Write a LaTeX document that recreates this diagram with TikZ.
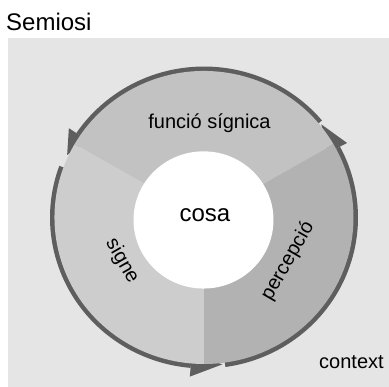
\documentclass[tikz,border=0pt]{standalone}
\usepackage{fontspec}
\setmainfont{Liberation Sans}
\begin{document}
\begin{tikzpicture}[x=1pt,y=1pt,
  lbl/.style={inner sep=0pt, text=black, font=\fontsize{20}{24}\selectfont},
  biglbl/.style={inner sep=0pt, text=black, font=\fontsize{24}{28}\selectfont},
  ringarc/.style={draw=darkc, line width=5pt},
  arrowtip/.style={fill=darkc}]
\definecolor{bgc}{HTML}{E5E5E5}
\definecolor{darkc}{HTML}{5E5E5E}
\definecolor{topc}{HTML}{C2C2C2}
\definecolor{leftc}{HTML}{CDCDCD}
\definecolor{rightc}{HTML}{B2B2B2}
\useasboundingbox (0,0) rectangle (389,387);
% context panel
\fill[bgc] (7.5,0) rectangle (389,348.5);
\node[biglbl, anchor=base west] (title) at (6,356.5) {Semiosi};
\node[lbl, anchor=base west] (ctx) at (319,18) {context};
\begin{scope}[shift={(204,169.5)}, yscale=0.98]
  % circular arrows running round the ring
  \draw[ringarc] (40:151.5) arc[start angle=40, end angle=146, radius=151.5];
  \fill[arrowtip] (146:140) -- (146:163) -- (155:151) -- cycle;
  \draw[ringarc] (160:151.5) arc[start angle=160, end angle=265, radius=151.5];
  \fill[arrowtip] (265:140) -- (265:163) -- (277:151) -- cycle;
  \draw[ringarc] (278:151.5) arc[start angle=278, end angle=388, radius=151.5];
  \fill[arrowtip] (28:140) -- (28:162) -- (39:151) -- cycle;
  % the three sectors of the ring
  \fill[topc] (0,0) -- (30:149.5) arc[start angle=30, end angle=150, radius=149.5] -- cycle;
  \fill[leftc] (0,0) -- (150:149.5) arc[start angle=150, end angle=270, radius=149.5] -- cycle;
  \fill[rightc] (0,0) -- (270:149.5) arc[start angle=270, end angle=390, radius=149.5] -- cycle;
  % centre
  \fill[white] (-0.5,-2.5) circle[radius=70];
  \node[biglbl, anchor=base] (cosa) at (1,-4) {cosa};
  \node[lbl, anchor=base] (fs) at (5.5,90.5) {funció sígnica};
  \node[lbl, rotate=-60] (signe) at (-82,-44.5) {signe};
  \node[lbl, rotate=60] (perc) at (84,-44.5) {percepció};
\end{scope}
\end{tikzpicture}
\end{document}
